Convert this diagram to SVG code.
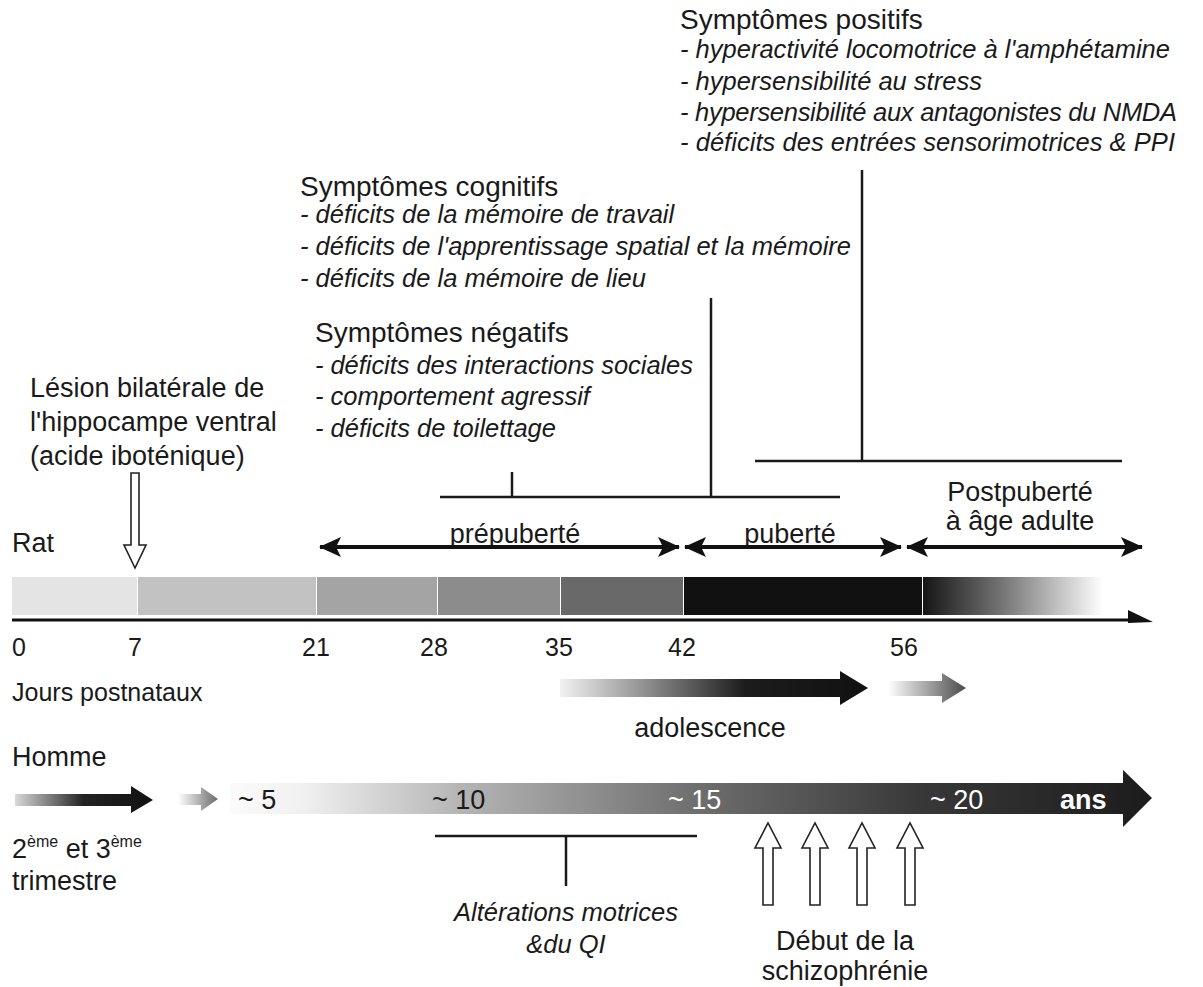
<svg xmlns="http://www.w3.org/2000/svg" width="1203" height="987" viewBox="0 0 1203 987">
<style>
text{font-family:"Liberation Sans",Arial,sans-serif;fill:#1a1a1a}
.h{font-size:28px}
.it{font-size:25.5px;font-style:italic}
.r{font-size:27px}
.t{font-size:25px}
.w{fill:#fff}
.ln{stroke:#1a1a1a;stroke-width:2.5;fill:none}
.dbl{stroke:#111;stroke-width:4;fill:none;marker-start:url(#ah);marker-end:url(#ah)}
.hol{fill:#fff;stroke:#222;stroke-width:1.6}
</style>
<defs>
<marker id="ah" viewBox="0 0 22 20" markerWidth="22" markerHeight="20" refX="21" refY="10" orient="auto-start-reverse" markerUnits="userSpaceOnUse">
<path d="M0,0 L22,10 L0,20 L5,10 Z" fill="#111"/>
</marker>
<linearGradient id="gEnd" x1="0" x2="1" y1="0" y2="0">
<stop offset="0" stop-color="#151515"/><stop offset="0.45" stop-color="#777"/><stop offset="1" stop-color="#fff"/>
</linearGradient>
<linearGradient id="gHum" gradientUnits="userSpaceOnUse" x1="230" y1="0" x2="1152" y2="0">
<stop offset="0" stop-color="#fbfbfb"/><stop offset="0.08" stop-color="#f0f0f0"/><stop offset="0.25" stop-color="#b5b5b5"/><stop offset="0.5" stop-color="#707070"/><stop offset="0.75" stop-color="#383838"/><stop offset="1" stop-color="#1c1c1c"/>
</linearGradient>
<linearGradient id="gAdo" gradientUnits="userSpaceOnUse" x1="560" y1="0" x2="868" y2="0">
<stop offset="0" stop-color="#f2f2f2"/><stop offset="0.6" stop-color="#1c1c1c"/><stop offset="1" stop-color="#111"/>
</linearGradient>
<linearGradient id="gAdo2" gradientUnits="userSpaceOnUse" x1="888" y1="0" x2="966" y2="0">
<stop offset="0" stop-color="#fff"/><stop offset="1" stop-color="#4a4a4a"/>
</linearGradient>
<linearGradient id="gH1" gradientUnits="userSpaceOnUse" x1="15" y1="0" x2="153" y2="0">
<stop offset="0" stop-color="#d8d8d8"/><stop offset="0.5" stop-color="#222"/><stop offset="1" stop-color="#111"/>
</linearGradient>
<linearGradient id="gH2" gradientUnits="userSpaceOnUse" x1="178" y1="0" x2="218" y2="0">
<stop offset="0" stop-color="#fff"/><stop offset="1" stop-color="#6a6a6a"/>
</linearGradient>
</defs>
<rect width="1203" height="987" fill="#fff"/>

<g id="positifs">
<text class="h" x="680" y="29">Symptômes positifs</text>
<text class="it" x="680" y="58" textLength="490">- hyperactivité locomotrice à l'amphétamine</text>
<text class="it" x="680" y="90">- hypersensibilité au stress</text>
<text class="it" x="680" y="121" textLength="497">- hypersensibilité aux antagonistes du NMDA</text>
<text class="it" x="680" y="151" textLength="495">- déficits des entrées sensorimotrices &amp; PPI</text>
</g>

<g id="cognitifs">
<text class="h" x="300" y="196">Symptômes cognitifs</text>
<text class="it" x="300" y="223">- déficits de la mémoire de travail</text>
<text class="it" x="300" y="255" textLength="551">- déficits de l'apprentissage spatial et la mémoire</text>
<text class="it" x="300" y="287">- déficits de la mémoire de lieu</text>
</g>

<g id="negatifs">
<text class="h" x="315" y="342">Symptômes négatifs</text>
<text class="it" x="315" y="374" textLength="378">- déficits des interactions sociales</text>
<text class="it" x="315" y="405">- comportement agressif</text>
<text class="it" x="315" y="437">- déficits de toilettage</text>
</g>

<g id="lesion">
<text class="r" x="30" y="397">Lésion bilatérale de</text>
<text class="r" x="30" y="431">l'hippocampe ventral</text>
<text class="r" x="30" y="465">(acide iboténique)</text>
<path class="hol" d="M131,473 L139,473 L139,545 L146,545 L135,568 L124,545 L131,545 Z"/>
</g>

<g id="rat-timeline">
<text class="r" x="12" y="552">Rat</text>
<rect x="12" y="577" width="125" height="38" fill="#e4e4e4"/>
<rect x="138" y="577" width="178" height="38" fill="#c2c2c2"/>
<rect x="317" y="577" width="120" height="38" fill="#a4a4a4"/>
<rect x="438" y="577" width="122" height="38" fill="#8c8c8c"/>
<rect x="561" y="577" width="122" height="38" fill="#696969"/>
<rect x="684" y="577" width="238" height="38" fill="#111"/>
<rect x="923" y="577" width="180" height="38" fill="url(#gEnd)"/>
<line x1="12" y1="620" x2="1135" y2="620" stroke="#111" stroke-width="3"/>
<path d="M1128,610 L1153,622 L1128,623 Z" fill="#111"/>
<text class="t" x="12" y="656">0</text>
<text class="t" x="128" y="656">7</text>
<text class="t" x="302" y="656">21</text>
<text class="t" x="420" y="656">28</text>
<text class="t" x="545" y="656">35</text>
<text class="t" x="668" y="656">42</text>
<text class="t" x="890" y="656">56</text>
<text class="t" x="12" y="701">Jours postnataux</text>
</g>

<g id="periodes">
<text class="r" x="515" y="543" text-anchor="middle">prépuberté</text>
<text class="r" x="790" y="543" text-anchor="middle">puberté</text>
<text class="r" x="1020" y="501" text-anchor="middle">Postpuberté</text>
<text class="r" x="1020" y="530" text-anchor="middle">à âge adulte</text>
</g>

<g id="adolescence">
<path d="M560,679 L840,679 L840,671 L868,688 L840,705 L840,697 L560,697 Z" fill="url(#gAdo)"/>
<path d="M888,681 L942,681 L942,673 L966,688 L942,703 L942,696 L888,696 Z" fill="url(#gAdo2)"/>
<text class="r" x="710" y="737" text-anchor="middle">adolescence</text>
</g>

<g id="homme">
<text class="r" x="12" y="766">Homme</text>
<path d="M15,794 L131,794 L131,786 L153,800 L131,813 L131,806 L15,806 Z" fill="url(#gH1)"/>
<path d="M178,794 L201,794 L201,787 L218,799 L201,811 L201,805 L178,805 Z" fill="url(#gH2)"/>
<path d="M230,783 L1123,783 L1123,770 L1152,798 L1123,827 L1123,814 L230,814 Z" fill="url(#gHum)"/>
<text class="r" x="238" y="809">~ 5</text>
<text class="r" x="432" y="809">~ 10</text>
<text class="r w" x="668" y="809">~ 15</text>
<text class="r w" x="930" y="809">~ 20</text>
<text class="r w" x="1060" y="809" font-weight="bold">ans</text>
<text class="r" x="12" y="858">2<tspan font-size="16" dy="-11">ème</tspan><tspan dy="11"> et 3</tspan><tspan font-size="16" dy="-11">ème</tspan></text>
<text class="r" x="12" y="890">trimestre</text>
</g>

<g id="alterations">
<text class="it" x="566" y="921" text-anchor="middle" font-size="27">Altérations motrices</text>
<text class="it" x="566" y="953" text-anchor="middle" font-size="27">&amp;du QI</text>
</g>

<g id="schizophrenie">
<path class="hol" d="M763,905 L763,848 L755,848 L768,823 L781,848 L773,848 L773,905 Z"/>
<path class="hol" d="M810,905 L810,848 L802,848 L815,823 L828,848 L820,848 L820,905 Z"/>
<path class="hol" d="M857,905 L857,848 L849,848 L862,823 L875,848 L867,848 L867,905 Z"/>
<path class="hol" d="M905,905 L905,848 L897,848 L910,823 L923,848 L915,848 L915,905 Z"/>
<text class="r" x="845" y="950" text-anchor="middle">Début de la</text>
<text class="r" x="845" y="980" text-anchor="middle">schizophrénie</text>
</g>

<g id="connectors">
<line class="dbl" x1="320" y1="547" x2="679" y2="547"/>
<line class="dbl" x1="685" y1="547" x2="901" y2="547"/>
<line class="dbl" x1="907" y1="547" x2="1142" y2="547"/>
<line class="ln" x1="440" y1="497" x2="840" y2="497"/>
<line class="ln" x1="512" y1="472" x2="512" y2="497"/>
<line class="ln" x1="711" y1="298" x2="711" y2="497"/>
<line class="ln" x1="755" y1="461" x2="1122" y2="461"/>
<line class="ln" x1="862" y1="170" x2="862" y2="461"/>
<line class="ln" x1="435" y1="836" x2="697" y2="836"/>
<line class="ln" x1="566" y1="836" x2="566" y2="886"/>
</g>
</svg>
